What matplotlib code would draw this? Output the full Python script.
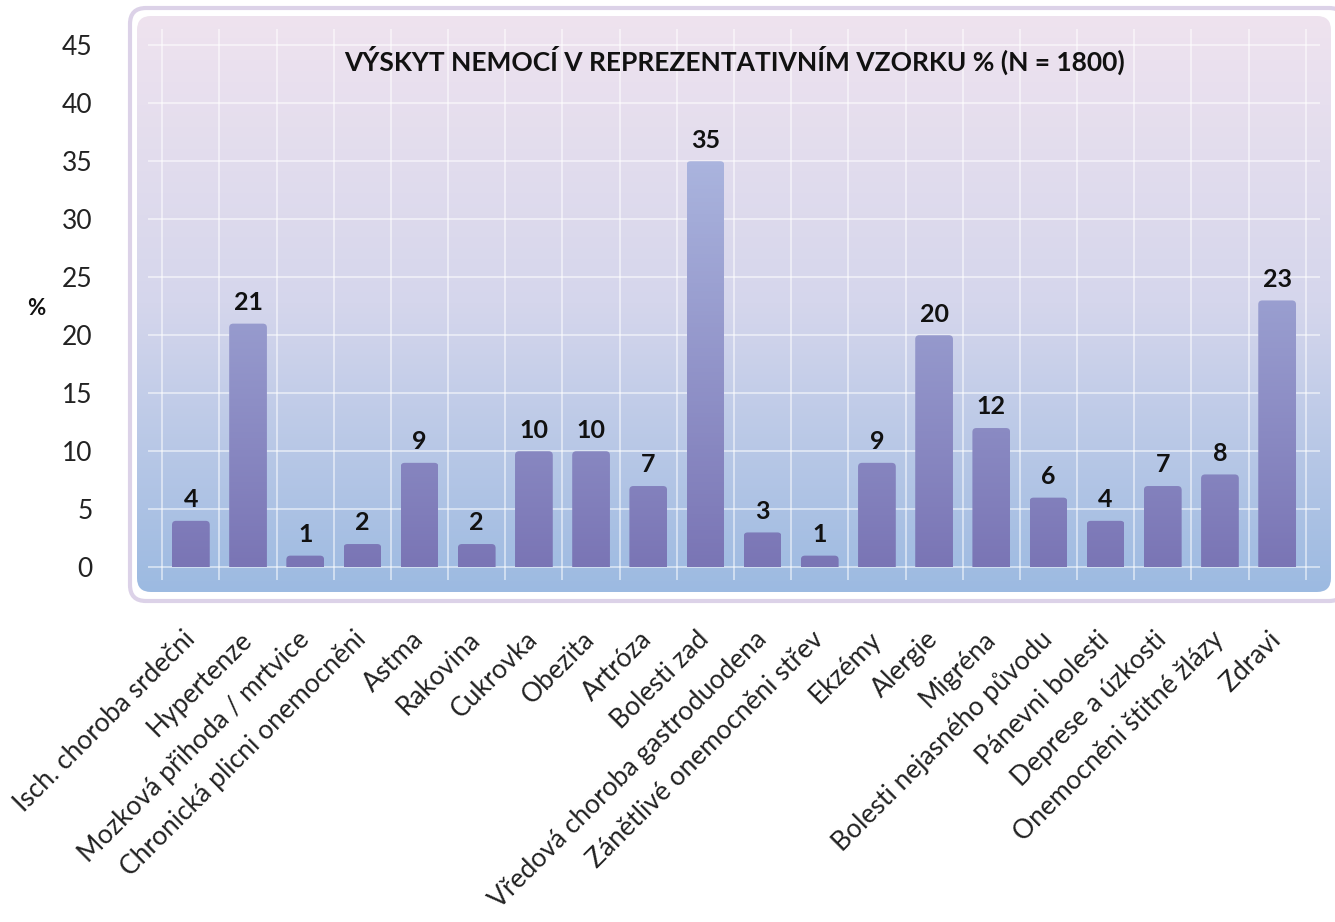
import matplotlib
matplotlib.use("Agg")
import matplotlib.pyplot as plt
import numpy as np
from matplotlib.colors import LinearSegmentedColormap
from matplotlib.patches import FancyBboxPatch
from matplotlib.transforms import Bbox, TransformedBbox

plt.rcParams["font.family"] = ["Lato", "DejaVu Sans"]

categories = [
    "Isch. choroba srdečni", "Hypertenze", "Mozková přihoda / mrtvice",
    "Chronická plicni onemocněni", "Astma", "Rakovina", "Cukrovka", "Obezita",
    "Artróza", "Bolesti zad", "Vředová choroba gastroduodena",
    "Zánětlivé onemocněni střev", "Ekzémy", "Alergie", "Migréna",
    "Bolesti nejasného původu", "Pánevni bolesti", "Deprese a úzkosti",
    "Onemocněni štitné žlázy", "Zdravi",
]
values = [4, 21, 1, 2, 9, 2, 10, 10, 7, 35, 3, 1, 9, 20, 12, 6, 4, 7, 8, 23]
yticks = [0, 5, 10, 15, 20, 25, 30, 35, 40, 45]

W, H = 1335, 922
fig = plt.figure(figsize=(W / 100, H / 100), dpi=100)

# background panel (pixel coords)
bg = fig.add_axes([0, 0, 1, 1], zorder=0)
outer = FancyBboxPatch((130, 8), 1215, 593, boxstyle="round,pad=0,rounding_size=16",
                       facecolor="white", edgecolor="#dcd2e8", linewidth=3, zorder=0)
bg.add_patch(outer)
inner = FancyBboxPatch((137, 16), 1194, 576, boxstyle="round,pad=0,rounding_size=14",
                       facecolor="none", edgecolor="none", zorder=0)
bg.add_patch(inner)
panel_cmap = LinearSegmentedColormap.from_list("panel", ["#efe3ef", "#d5d6ec", "#9cbae1"])
grad = np.linspace(0, 1, 256).reshape(-1, 1)
im = bg.imshow(grad, cmap=panel_cmap, extent=(137, 1331, 592, 16), aspect="auto",
               origin="upper", zorder=1)
im.set_clip_path(inner)
bg.set_xlim(0, W)
bg.set_ylim(H, 0)
bg.axis("off")

# main axes
ax = fig.add_axes([148 / W, 1 - 580 / H, (1320 - 148) / W, (580 - 29) / H], zorder=1)
ax.patch.set_alpha(0)
x = np.arange(len(categories))
for s in ax.spines.values():
    s.set_visible(False)

ax.set_yticks(yticks)
ax.set_yticklabels([str(t) for t in yticks], fontsize=19, color="#222222")
ax.set_xticks(x)
ax.set_xticklabels(categories, rotation=45, ha="right", va="center",
                   rotation_mode="anchor", fontsize=19, color="#222222")
ax.set_xticks(np.arange(-0.5, len(categories)), minor=True)
ax.tick_params(axis="both", which="both", length=0)
ax.tick_params(axis="y", pad=40)
ax.tick_params(axis="x", pad=40)
ax.grid(axis="y", which="major", color="white", alpha=0.6, linewidth=1.2)
ax.grid(axis="x", which="minor", color="white", alpha=0.6, linewidth=1.2)
ax.grid(axis="x", which="major", visible=False)
ax.set_axisbelow(True)

# gradient bars
bar_cmap = LinearSegmentedColormap.from_list("bars", ["#7a75b5", "#aab4de"])
bars = ax.bar(x, values, width=0.66, color="none", edgecolor="none")
x_px = (1320 - 148) / (len(categories) + 0.5)
y_px = (580 - 29) / 47.5
aspect = x_px / y_px
for b, v in zip(bars, values):
    x0, w = b.get_x(), b.get_width()
    clip = FancyBboxPatch((x0, -1), w, v + 1,
                          boxstyle="round,pad=0,rounding_size=%f" % (4 / x_px),
                          mutation_aspect=aspect, transform=ax.transData,
                          facecolor="none", edgecolor="none")
    ax.add_patch(clip)
    ys = np.linspace(0, v, 100).reshape(-1, 1)
    bi = ax.imshow(ys, cmap=bar_cmap, vmin=0, vmax=35, extent=(x0, x0 + w, 0, v),
                   origin="lower", aspect="auto", zorder=2)
    bi.set_clip_path(clip)
    bi.set_clip_box(TransformedBbox(Bbox([[x0, 0], [x0 + w, v + 1]]), ax.transData))
    ax.annotate(str(v), (b.get_x() + w / 2, v), xytext=(0, 7), textcoords="offset points",
                ha="center", va="bottom", fontsize=18, fontweight="bold", color="#111111")
ax.set_xlim(-0.75, len(categories) - 0.25)
ax.set_ylim(-1.1, 46.4)

fig.text(735 / W, 1 - 60 / H, "VÝSKYT NEMOCÍ V REPREZENTATIVNÍM VZORKU % (N = 1800)",
         ha="center", va="center", fontsize=19, fontweight="bold", color="#111111")
fig.text(36 / W, 1 - 308 / H, "%", ha="center", va="center", fontsize=16,
         fontweight="bold", color="#111111")

fig.savefig("out.png", dpi=100)
